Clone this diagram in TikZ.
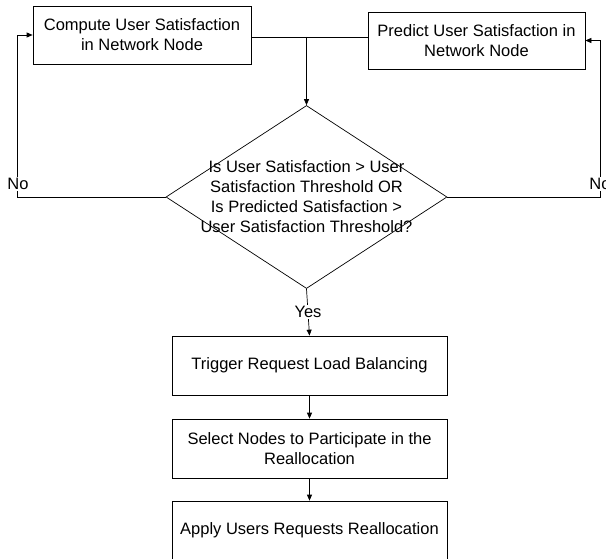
\documentclass[tikz,border=0pt]{standalone}
\usepackage{fontspec}
\setmainfont{Liberation Sans}
\usetikzlibrary{arrows.meta,calc,shapes.geometric}

\begin{document}
\begin{tikzpicture}[x=1pt, y=-1pt, line width=0.7pt, >={Triangle[length=6pt,width=5pt]},
    box/.style={draw, minimum width=275pt, minimum height=59pt, align=center,
        font=\fontsize{16.5}{20}\selectfont},
    decision/.style={draw, diamond, minimum width=281pt, minimum height=183pt, inner sep=0pt},
    txt/.style={align=center, font=\fontsize{16.5}{20}\selectfont},
    lbl/.style={fill=white, inner sep=1pt, font=\fontsize{16.5}{20}\selectfont}]
    \useasboundingbox (0,0) rectangle (606,559);

    \node[box, minimum width=218pt, minimum height=58pt] (comp) at (142,35) {Compute User Satisfaction\\in Network Node};
    \node[box, minimum width=217pt, minimum height=57pt] (pred) at (476.5,40.5) {Predict User Satisfaction in\\Network Node};

    \node[decision] (dec) at (306.5,197) {};
    \node[txt] (quest) at (dec.center) {Is User Satisfaction > User\\Satisfaction Threshold OR\\Is Predicted Satisfaction >\\User Satisfaction Threshold?};

    \node[box] (trig) at (309.5,365.5) {Trigger Request Load Balancing};
    \node[box] (sel) at (309.5,448.5) {Select Nodes to Participate in the\\Reallocation};
    \node[box] (app) at (309.5,530.5) {Apply Users Requests Reallocation};

    % both estimates join before the test
    \coordinate (join) at (306.5,37);
    \draw (join -| comp.east) -- (join -| pred.west);
    \draw[->] (join) -- (dec.north);

    % loops back when not satisfied
    \draw[->] (dec.west) -| ($(comp.west)+(-15,0)$) -- (comp.west);
    \draw[->] (dec.east) -| ($(pred.east)+(15,0)$) -- (pred.east);
    \node[lbl] (noleft) at (18,184) {No};
    \node[lbl] (noright) at (600,184) {No};

    \draw[->] (dec.south) -- node[lbl] (yes) {Yes} (trig.north);
    \draw[->] (trig) -- (sel);
    \draw[->] (sel) -- (app);
\end{tikzpicture}
\end{document}
